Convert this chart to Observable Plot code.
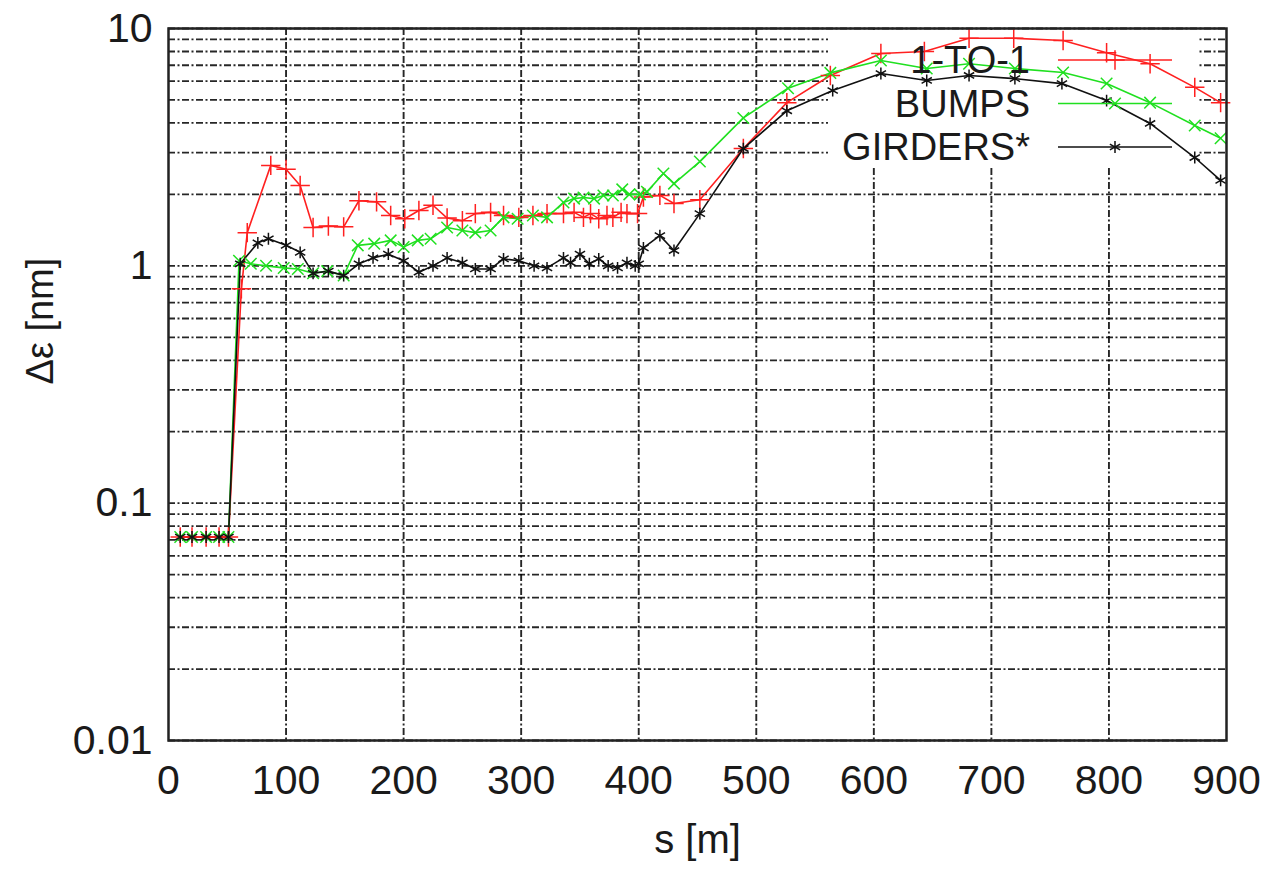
<!DOCTYPE html>
<html>
<head>
<meta charset="utf-8">
<script src="https://cdn.jsdelivr.net/npm/d3@7"></script>
<script src="https://cdn.jsdelivr.net/npm/@observablehq/plot@0.6"></script>
<style>
  html, body { margin: 0; padding: 0; background: #fff; }
  #chart { width: 1271px; height: 871px; }
</style>
</head>
<body>
<div id="chart"></div>
<script>
// ---- data ----
const seriesNames = ["1-TO-1", "BUMPS", "GIRDERS*"];
const seriesColors = ["#ff2020", "#20e020", "#111111"];

const sOne = [10, 20, 32, 43, 51, 62, 67, 87, 100, 112, 123, 136, 149, 162, 177, 189, 201, 213, 225, 237, 250, 261, 274, 285, 298, 310, 322, 336, 345, 353, 359, 366, 373, 378, 385, 390, 399, 404, 418, 430, 452, 489, 526, 563, 606, 643, 681, 719, 761, 798, 835, 873, 895];
const vOne = [0.072, 0.072, 0.072, 0.072, 0.072, 0.8, 1.38, 2.65, 2.55, 2.18, 1.45, 1.47, 1.46, 1.88, 1.86, 1.63, 1.58, 1.71, 1.80, 1.59, 1.55, 1.66, 1.68, 1.63, 1.60, 1.63, 1.66, 1.66, 1.68, 1.60, 1.66, 1.58, 1.63, 1.60, 1.68, 1.66, 1.66, 1.95, 1.98, 1.83, 1.90, 3.12, 4.87, 6.34, 7.85, 8.0, 9.1, 9.1, 8.9, 7.9, 7.1, 5.65, 4.87];

const sBumps = [10, 20, 32, 43, 51, 60, 70, 83, 98, 110, 123, 135, 149, 161, 175, 189, 200, 212, 223, 237, 250, 261, 274, 285, 297, 310, 322, 336, 345, 353, 362, 370, 378, 386, 392, 401, 407, 421, 430, 452, 489, 527, 563, 606, 645, 681, 720, 761, 798, 835, 873, 895];
const vBumps = [0.072, 0.072, 0.072, 0.072, 0.072, 1.05, 1.02, 1.0, 0.98, 0.97, 0.93, 0.95, 0.91, 1.22, 1.24, 1.28, 1.20, 1.28, 1.30, 1.45, 1.41, 1.38, 1.41, 1.60, 1.58, 1.63, 1.60, 1.85, 1.92, 1.94, 1.92, 1.98, 1.98, 2.1, 2.0, 2.0, 2.05, 2.45, 2.22, 2.75, 4.2, 5.6, 6.5, 7.33, 6.78, 7.1, 6.78, 6.53, 5.86, 4.87, 3.9, 3.45];

const sGirders = [10, 20, 32, 43, 51, 61, 76, 85, 100, 112, 123, 136, 149, 162, 174, 187, 200, 213, 225, 237, 250, 261, 274, 285, 298, 311, 322, 336, 342, 350, 358, 366, 374, 382, 390, 397, 400, 404, 418, 430, 452, 489, 526, 565, 606, 645, 681, 720, 760, 798, 835, 873, 895];
const vGirders = [0.072, 0.072, 0.072, 0.072, 0.072, 1.02, 1.25, 1.3, 1.22, 1.14, 0.93, 0.95, 0.91, 1.02, 1.08, 1.12, 1.05, 0.94, 1.0, 1.08, 1.03, 0.97, 0.97, 1.07, 1.05, 1.0, 0.98, 1.08, 1.03, 1.12, 1.02, 1.07, 1.0, 0.98, 1.03, 1.0, 1.02, 1.19, 1.34, 1.16, 1.66, 3.12, 4.5, 5.48, 6.46, 6.04, 6.34, 6.15, 5.86, 4.97, 3.98, 2.86, 2.29];

const xTicks = [0, 100, 200, 300, 400, 500, 600, 700, 800, 900];
const yTickLabels = ["0.01", "0.1", "1", "10"];
const xLabel = "s [m]";
const yLabel = "Δε [nm]";

// ---- build tables ----
const one = sOne.map((s, i) => ({s, v: vOne[i]}));
const bumps = sBumps.map((s, i) => ({s, v: vBumps[i]}));
const girders = sGirders.map((s, i) => ({s, v: vGirders[i]}));
const yTicks = yTickLabels.map(Number);
const yGrid = [];
for (const d of [0.01, 0.1, 1]) for (let k = 1; k <= 9; k++) yGrid.push(+(k * d).toPrecision(3));
yGrid.push(10);
const xGrid = xTicks.slice(1, -1);

const FONT = "'Liberation Sans', Arial, Helvetica, sans-serif";
const symbols = ["plus", "times", "asterisk"];
const d3symbols = [d3.symbolPlus, d3.symbolTimes, d3.symbolAsterisk];
const symR = [6.3, 5.3, 5.6];
const dash = "7,2.5,2,2.5";

// legend box (cleared area) drawn before the curves
function legendBox(index, scales, values, dim) {
  const right = dim.width - dim.marginRight;
  const g = d3.create("svg:g");
  g.append("rect")
    .attr("x", right - 398).attr("y", dim.marginTop + 2)
    .attr("width", 370).attr("height", 138)
    .attr("fill", "white");
  return g.node();
}
// legend entries drawn on top
function legendEntries(index, scales, values, dim) {
  const right = dim.width - dim.marginRight;
  const g = d3.create("svg:g");
  seriesNames.forEach((name, i) => {
    const y = dim.marginTop + 32 + i * 43.5;
    g.append("text")
      .attr("x", right - 196).attr("y", y)
      .attr("text-anchor", "end").attr("dominant-baseline", "central")
      .attr("font-family", FONT).attr("font-size", 38).attr("fill", "#1a1a1a")
      .text(name);
    g.append("line")
      .attr("x1", right - 168).attr("x2", right - 54)
      .attr("y1", y).attr("y2", y)
      .attr("stroke", seriesColors[i]).attr("stroke-width", 1.6);
    const size = Math.PI * symR[i] * symR[i];
    g.append("path")
      .attr("transform", `translate(${right - 111},${y})`)
      .attr("d", d3.symbol(d3symbols[i], size)())
      .attr("fill", "none").attr("stroke", seriesColors[i]).attr("stroke-width", 1.5);
  });
  return g.node();
}

const series = [one, bumps, girders];
const curveMarks = [];
series.forEach((data, i) => {
  curveMarks.push(Plot.line(data, {x: "s", y: "v", stroke: seriesColors[i], strokeWidth: 1.6}));
});
series.forEach((data, i) => {
  curveMarks.push(Plot.dot(data, {x: "s", y: "v", symbol: () => symbols[i], r: symR[i], stroke: seriesColors[i], strokeWidth: 1.5}));
});

const chart = Plot.plot({
  width: 1271,
  height: 871,
  marginLeft: 168,
  marginRight: 45,
  marginTop: 28,
  marginBottom: 131,
  style: {background: "white", fontFamily: FONT},
  x: {domain: [0, 900]},
  y: {type: "log", domain: [0.01, 10]},
  symbol: {type: "identity"},
  marks: [
    Plot.gridY(yGrid, {stroke: "#000", strokeOpacity: 0.85, strokeWidth: 1.8, strokeDasharray: dash}),
    Plot.gridX(xGrid, {stroke: "#000", strokeOpacity: 0.85, strokeWidth: 1.9, strokeDasharray: dash}),
    legendBox,
    ...curveMarks,
    legendEntries,
    Plot.frame({stroke: "#222", strokeWidth: 2.5}),
    Plot.axisX(xTicks, {tickSize: 0, tickPadding: 24, fontSize: 41, fill: "#1a1a1a", label: null, tickFormat: d => String(d)}),
    Plot.axisY(yTicks, {tickSize: 0, tickPadding: 16, fontSize: 41, fill: "#1a1a1a", label: null, tickFormat: (d, i) => yTickLabels[yTicks.indexOf(d)]}),
    Plot.text([xLabel], {frameAnchor: "bottom", dy: 112, text: d => d, fontSize: 40, fill: "#1a1a1a"}),
    Plot.text([yLabel], {frameAnchor: "left", dx: -128, rotate: -90, text: d => d, fontSize: 38, fill: "#1a1a1a"})
  ]
});
document.getElementById("chart").appendChild(chart);
</script>
</body>
</html>
